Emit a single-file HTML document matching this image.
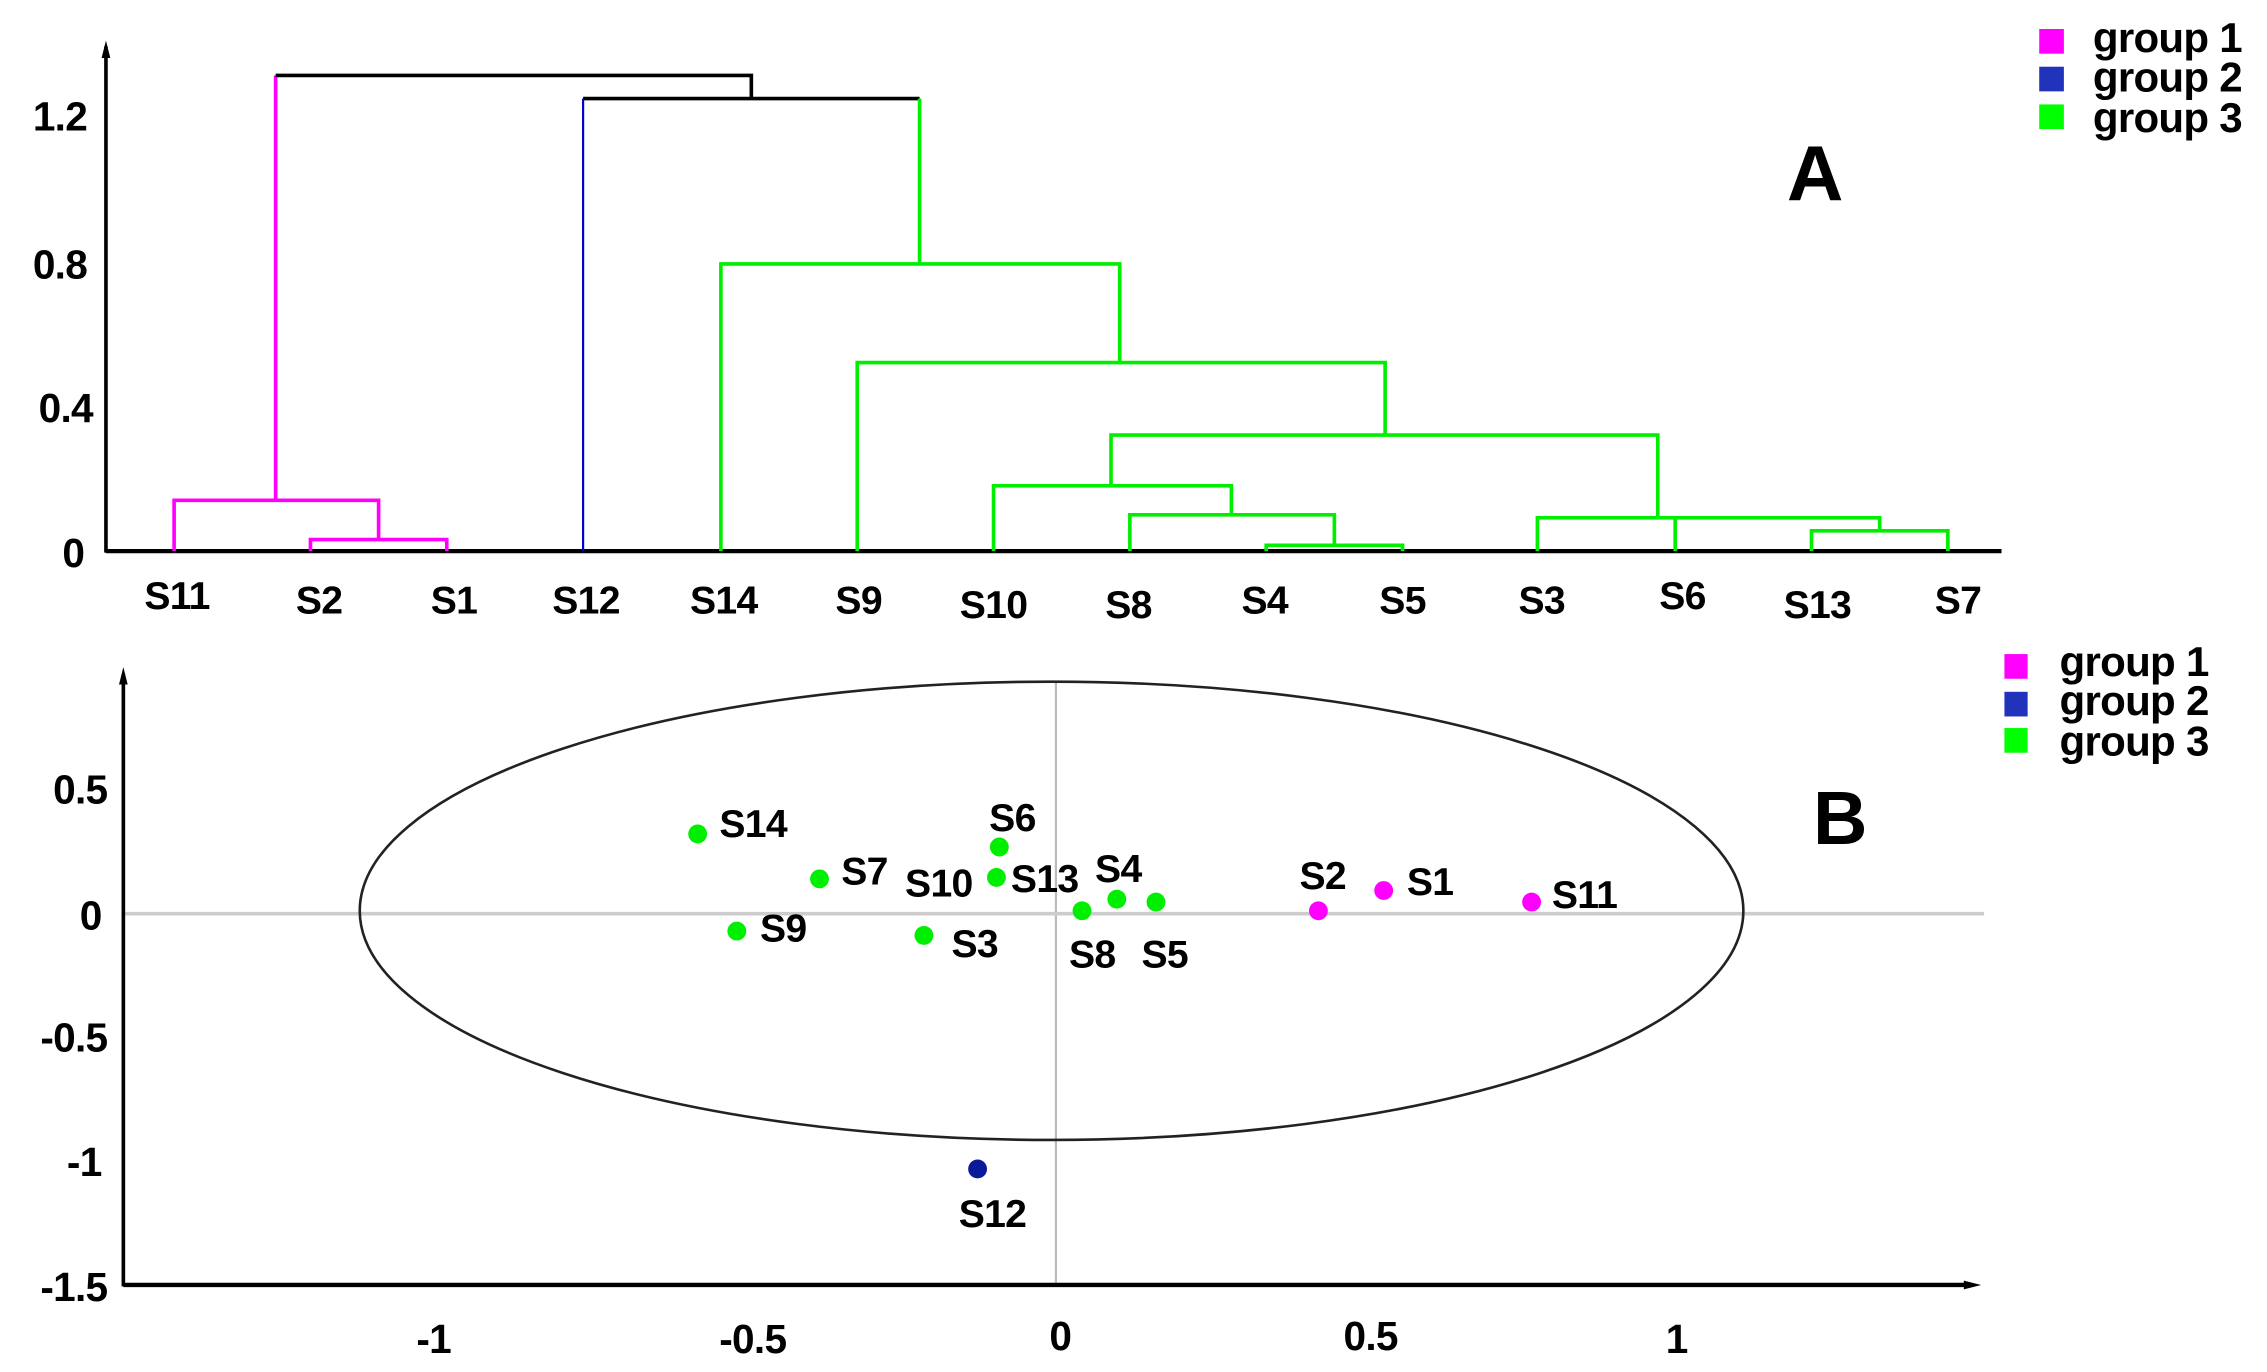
<!DOCTYPE html>
<html><head><meta charset="utf-8"><style>
html,body{margin:0;padding:0;background:#fff}
svg{display:block}
text{font-family:"Liberation Sans",sans-serif;font-weight:bold;fill:#000;letter-spacing:-0.5px}
</style></head><body>
<svg width="2267" height="1372" viewBox="0 0 1563 946" xmlns="http://www.w3.org/2000/svg">
<!-- Panel A axes -->
<line x1="73" y1="32" x2="73" y2="381" stroke="#000" stroke-width="2.5"/>
<polygon points="73,28 70,40 76,40" fill="#000"/>
<line x1="73" y1="380" x2="1380" y2="380" stroke="#000" stroke-width="3"/>
<g font-size="28" text-anchor="end">
<text x="60" y="90">1.2</text><text x="60" y="192">0.8</text><text x="64" y="291">0.4</text><text x="58" y="391">0</text>
</g>
<g fill="none" stroke-width="2.5">
<g stroke="#ff00ff">
<polyline points="214,380 214,372 308,372 308,380"/>
<polyline points="120,380 120,345 261,345 261,372"/>
<polyline points="190,345 190,52"/>
</g>
<polyline stroke="#000" points="190,52 518,52 518,68"/>
<polyline stroke="#000" points="402,68 634,68"/>
<line stroke="#0000cc" stroke-width="1.5" x1="402" y1="68" x2="402" y2="380"/>
<g stroke="#00ee00">
<polyline points="634,68 634,182"/>
<polyline points="497,380 497,182 772,182 772,250"/>
<polyline points="591,380 591,250 955,250 955,300"/>
<polyline points="766,335 766,300 1143,300 1143,357"/>
<polyline points="685,380 685,335 849,335 849,355"/>
<polyline points="779,380 779,355 920,355 920,376"/>
<polyline points="873,380 873,376 967,376 967,380"/>
<polyline points="1060,380 1060,357 1296,357 1296,366"/>
<polyline points="1155,357 1155,380"/>
<polyline points="1249,380 1249,366 1343,366 1343,380"/>
</g>
</g>
<g font-size="27" text-anchor="middle">
<text x="122" y="420">S11</text><text x="220" y="423">S2</text><text x="313" y="423">S1</text><text x="404" y="423">S12</text><text x="499" y="423">S14</text><text x="592" y="423">S9</text><text x="685" y="426">S10</text><text x="778" y="426">S8</text><text x="872" y="423">S4</text><text x="967" y="423">S5</text><text x="1063" y="423">S3</text><text x="1160" y="420">S6</text><text x="1253" y="426">S13</text><text x="1350" y="423">S7</text>
</g>
<text x="1232" y="138" font-size="54">A</text>
<rect x="1406" y="20" width="17" height="17" fill="#ff00ff"/>
<rect x="1406" y="46" width="17" height="17" fill="#2233bb"/>
<rect x="1406" y="72" width="17" height="17" fill="#00ff00"/>
<g font-size="29"><text x="1443" y="36">group 1</text><text x="1443" y="63">group 2</text><text x="1443" y="91">group 3</text></g>

<!-- Panel B -->
<line x1="728" y1="470" x2="728" y2="886" stroke="#bbb" stroke-width="1.5"/>
<line x1="85" y1="630" x2="1368" y2="630" stroke="#ccc" stroke-width="2.5"/>
<line x1="85" y1="465" x2="85" y2="887" stroke="#000" stroke-width="2.5"/>
<polygon points="85,460 82,472 88,472" fill="#000"/>
<line x1="85" y1="886" x2="1355" y2="886" stroke="#000" stroke-width="3"/>
<polygon points="1366,886 1354,883 1354,889" fill="#000"/>
<ellipse cx="725" cy="628" rx="477" ry="158" fill="none" stroke="#222" stroke-width="1.8"/>
<g font-size="28" text-anchor="end">
<text x="74" y="554">0.5</text><text x="70" y="641">0</text><text x="74" y="725">-0.5</text><text x="70" y="811">-1</text><text x="74" y="897">-1.5</text>
</g>
<g font-size="28" text-anchor="middle">
<text x="299" y="933">-1</text><text x="519" y="933">-0.5</text><text x="731" y="931">0</text><text x="945" y="931">0.5</text><text x="1156" y="933">1</text>
</g>
<g fill="#00ee00">
<circle cx="481" cy="575" r="6.5"/><circle cx="565" cy="606" r="6.5"/><circle cx="689" cy="584" r="6.5"/><circle cx="687" cy="605" r="6.5"/><circle cx="770" cy="620" r="6.5"/><circle cx="746" cy="628" r="6.5"/><circle cx="797" cy="622" r="6.5"/><circle cx="508" cy="642" r="6.5"/><circle cx="637" cy="645" r="6.5"/>
</g>
<g fill="#ff00ff"><circle cx="909" cy="628" r="6.5"/><circle cx="954" cy="614" r="6.5"/><circle cx="1056" cy="622" r="6.5"/></g>
<circle cx="674" cy="806" r="6.5" fill="#0a1a99"/>
<g font-size="27">
<text x="496" y="577">S14</text><text x="682" y="573">S6</text><text x="580" y="610">S7</text><text x="624" y="618">S10</text><text x="697" y="615">S13</text><text x="755" y="608">S4</text><text x="737" y="667">S8</text><text x="787" y="667">S5</text><text x="524" y="649">S9</text><text x="656" y="660">S3</text><text x="896" y="613">S2</text><text x="970" y="617">S1</text><text x="1070" y="626">S11</text><text x="661" y="846">S12</text>
</g>
<text x="1250" y="582" font-size="52">B</text>
<rect x="1382" y="451" width="16" height="17" fill="#ff00ff"/>
<rect x="1382" y="477" width="16" height="17" fill="#2233bb"/>
<rect x="1382" y="502" width="16" height="17" fill="#00ff00"/>
<g font-size="29"><text x="1420" y="466">group 1</text><text x="1420" y="493">group 2</text><text x="1420" y="521">group 3</text></g>
</svg>
</body></html>
